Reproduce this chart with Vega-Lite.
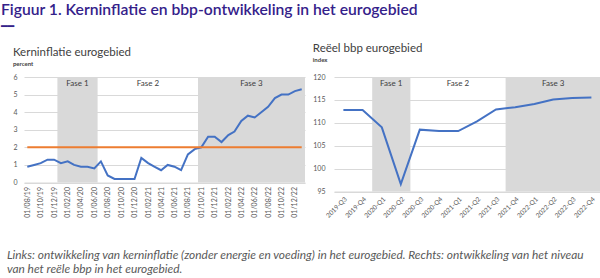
{
  "$schema": "https://vega.github.io/schema/vega-lite/v6.json",
  "background": "white",
  "padding": {"left": 0, "top": 2, "right": 0, "bottom": 0},
  "config": {
    "view": {"stroke": null},
    "font": "Lato",
    "axis": {"labelOverlap": false, "ticks": false, "labelFontSize": 7, "labelColor": "#595959", "gridColor": "#D9D9D9"},
    "axisY": {"grid": true, "domain": false},
    "axisX": {"grid": false, "domainColor": "#D9D9D9"}
  },
  "title": {
    "text": "Figuur 1. Kerninflatie en bbp-ontwikkeling in het eurogebied",
    "subtitle": "━━",
    "anchor": "start",
    "font": "Lato",
    "fontSize": 15.7,
    "fontWeight": 600,
    "color": "#34218A",
    "subtitleFont": "DejaVu Sans",
    "subtitleFontSize": 11,
    "subtitleColor": "#34218A",
    "subtitlePadding": 2,
    "dx": -6,
    "offset": 10.3
  },
  "datasets": {
    "inflatie": [
      {"maand": "2019-08-01", "kern": 0.9, "doel": 2},
      {"maand": "2019-09-01", "kern": 1.0, "doel": 2},
      {"maand": "2019-10-01", "kern": 1.1, "doel": 2},
      {"maand": "2019-11-01", "kern": 1.3, "doel": 2},
      {"maand": "2019-12-01", "kern": 1.3, "doel": 2},
      {"maand": "2020-01-01", "kern": 1.1, "doel": 2},
      {"maand": "2020-02-01", "kern": 1.2, "doel": 2},
      {"maand": "2020-03-01", "kern": 1.0, "doel": 2},
      {"maand": "2020-04-01", "kern": 0.9, "doel": 2},
      {"maand": "2020-05-01", "kern": 0.9, "doel": 2},
      {"maand": "2020-06-01", "kern": 0.8, "doel": 2},
      {"maand": "2020-07-01", "kern": 1.2, "doel": 2},
      {"maand": "2020-08-01", "kern": 0.4, "doel": 2},
      {"maand": "2020-09-01", "kern": 0.2, "doel": 2},
      {"maand": "2020-10-01", "kern": 0.2, "doel": 2},
      {"maand": "2020-11-01", "kern": 0.2, "doel": 2},
      {"maand": "2020-12-01", "kern": 0.2, "doel": 2},
      {"maand": "2021-01-01", "kern": 1.4, "doel": 2},
      {"maand": "2021-02-01", "kern": 1.1, "doel": 2},
      {"maand": "2021-03-01", "kern": 0.9, "doel": 2},
      {"maand": "2021-04-01", "kern": 0.7, "doel": 2},
      {"maand": "2021-05-01", "kern": 1.0, "doel": 2},
      {"maand": "2021-06-01", "kern": 0.9, "doel": 2},
      {"maand": "2021-07-01", "kern": 0.7, "doel": 2},
      {"maand": "2021-08-01", "kern": 1.6, "doel": 2},
      {"maand": "2021-09-01", "kern": 1.9, "doel": 2},
      {"maand": "2021-10-01", "kern": 2.0, "doel": 2},
      {"maand": "2021-11-01", "kern": 2.6, "doel": 2},
      {"maand": "2021-12-01", "kern": 2.6, "doel": 2},
      {"maand": "2022-01-01", "kern": 2.3, "doel": 2},
      {"maand": "2022-02-01", "kern": 2.7, "doel": 2},
      {"maand": "2022-03-01", "kern": 2.9, "doel": 2},
      {"maand": "2022-04-01", "kern": 3.5, "doel": 2},
      {"maand": "2022-05-01", "kern": 3.8, "doel": 2},
      {"maand": "2022-06-01", "kern": 3.7, "doel": 2},
      {"maand": "2022-07-01", "kern": 4.0, "doel": 2},
      {"maand": "2022-08-01", "kern": 4.3, "doel": 2},
      {"maand": "2022-09-01", "kern": 4.8, "doel": 2},
      {"maand": "2022-10-01", "kern": 5.0, "doel": 2},
      {"maand": "2022-11-01", "kern": 5.0, "doel": 2},
      {"maand": "2022-12-01", "kern": 5.2, "doel": 2},
      {"maand": "2023-01-01", "kern": 5.3, "doel": 2}
    ],
    "fasenL": [
      {"fase": "Fase 1", "start": "2019-12-16", "eind": "2020-06-16", "midden": "2020-03-16", "grijs": true},
      {"fase": "Fase 2", "start": "2020-06-16", "eind": "2021-09-16", "midden": "2021-01-31", "grijs": false},
      {"fase": "Fase 3", "start": "2021-09-16", "eind": "2023-01-16", "midden": "2022-05-17", "grijs": true}
    ],
    "bbp": [
      {"kwartaal": "2019-07-01", "bbp": 112.8},
      {"kwartaal": "2019-10-01", "bbp": 112.8},
      {"kwartaal": "2020-01-01", "bbp": 109.0},
      {"kwartaal": "2020-04-01", "bbp": 96.6},
      {"kwartaal": "2020-07-01", "bbp": 108.5},
      {"kwartaal": "2020-10-01", "bbp": 108.2},
      {"kwartaal": "2021-01-01", "bbp": 108.2},
      {"kwartaal": "2021-04-01", "bbp": 110.3},
      {"kwartaal": "2021-07-01", "bbp": 112.9},
      {"kwartaal": "2021-10-01", "bbp": 113.4},
      {"kwartaal": "2022-01-01", "bbp": 114.1},
      {"kwartaal": "2022-04-01", "bbp": 115.1},
      {"kwartaal": "2022-07-01", "bbp": 115.4},
      {"kwartaal": "2022-10-01", "bbp": 115.5}
    ],
    "fasenR": [
      {"fase": "Fase 1", "start": "2019-11-16", "eind": "2020-05-17", "midden": "2020-02-15", "grijs": true},
      {"fase": "Fase 2", "start": "2020-05-17", "eind": "2021-08-16", "midden": "2020-12-31", "grijs": false},
      {"fase": "Fase 3", "start": "2021-08-16", "eind": "2022-11-16", "midden": "2022-04-01", "grijs": true}
    ]
  },
  "vconcat": [
    {
      "title": {
        "text": ["Links: ontwikkeling van kerninflatie (zonder energie en voeding) in het eurogebied. Rechts: ontwikkeling van het niveau", "van het reële bbp in het eurogebied."],
        "orient": "bottom",
        "anchor": "start",
        "font": "Lato",
        "fontStyle": "italic",
        "fontWeight": "normal",
        "fontSize": 11.9,
        "lineHeight": 14,
        "color": "#595959",
        "dx": -6,
        "offset": 31.3
      },
      "spacing": 6,
      "hconcat": [
        {
          "width": 281,
          "height": 105.5,
          "title": {
            "text": "Kerninflatie eurogebied",
            "subtitle": "percent",
            "anchor": "start",
            "font": "Lato",
            "fontSize": 11.5,
            "fontWeight": "normal",
            "color": "#404040",
            "subtitleFont": "Lato",
            "subtitleFontSize": 6,
            "subtitleFontWeight": "bold",
            "subtitleColor": "#404040",
            "subtitlePadding": 2,
            "offset": 6.4
          },
          "layer": [
            {
              "data": {"name": "fasenL"},
              "transform": [{"filter": "datum.grijs"}],
              "mark": {"type": "rect", "color": "#D9D9D9"},
              "encoding": {
                "x": {
                  "field": "start", "type": "temporal", "title": null,
                  "scale": {"type": "utc", "nice": false, "domain": [{"year": 2019, "month": 7, "date": 17, "utc": true}, {"year": 2023, "month": 1, "date": 16, "utc": true}]},
                  "axis": {"values": [{"year": 2019, "month": 8, "date": 1, "utc": true}, {"year": 2019, "month": 10, "date": 1, "utc": true}, {"year": 2019, "month": 12, "date": 1, "utc": true}, {"year": 2020, "month": 2, "date": 1, "utc": true}, {"year": 2020, "month": 4, "date": 1, "utc": true}, {"year": 2020, "month": 6, "date": 1, "utc": true}, {"year": 2020, "month": 8, "date": 1, "utc": true}, {"year": 2020, "month": 10, "date": 1, "utc": true}, {"year": 2020, "month": 12, "date": 1, "utc": true}, {"year": 2021, "month": 2, "date": 1, "utc": true}, {"year": 2021, "month": 4, "date": 1, "utc": true}, {"year": 2021, "month": 6, "date": 1, "utc": true}, {"year": 2021, "month": 8, "date": 1, "utc": true}, {"year": 2021, "month": 10, "date": 1, "utc": true}, {"year": 2021, "month": 12, "date": 1, "utc": true}, {"year": 2022, "month": 2, "date": 1, "utc": true}, {"year": 2022, "month": 4, "date": 1, "utc": true}, {"year": 2022, "month": 6, "date": 1, "utc": true}, {"year": 2022, "month": 8, "date": 1, "utc": true}, {"year": 2022, "month": 10, "date": 1, "utc": true}, {"year": 2022, "month": 12, "date": 1, "utc": true}], "format": "01/%m/%y", "labelAngle": -90, "labelOverlap": false, "labelPadding": 4, "grid": false}
                },
                "x2": {"field": "eind"}
              }
            },
            {
              "data": {"name": "inflatie"},
              "mark": {"type": "line", "color": "#4472C4", "strokeWidth": 2},
              "encoding": {
                "x": {"field": "maand", "type": "temporal", "title": null,
                  "axis": {"values": [{"year": 2019, "month": 8, "date": 1, "utc": true}, {"year": 2019, "month": 10, "date": 1, "utc": true}, {"year": 2019, "month": 12, "date": 1, "utc": true}, {"year": 2020, "month": 2, "date": 1, "utc": true}, {"year": 2020, "month": 4, "date": 1, "utc": true}, {"year": 2020, "month": 6, "date": 1, "utc": true}, {"year": 2020, "month": 8, "date": 1, "utc": true}, {"year": 2020, "month": 10, "date": 1, "utc": true}, {"year": 2020, "month": 12, "date": 1, "utc": true}, {"year": 2021, "month": 2, "date": 1, "utc": true}, {"year": 2021, "month": 4, "date": 1, "utc": true}, {"year": 2021, "month": 6, "date": 1, "utc": true}, {"year": 2021, "month": 8, "date": 1, "utc": true}, {"year": 2021, "month": 10, "date": 1, "utc": true}, {"year": 2021, "month": 12, "date": 1, "utc": true}, {"year": 2022, "month": 2, "date": 1, "utc": true}, {"year": 2022, "month": 4, "date": 1, "utc": true}, {"year": 2022, "month": 6, "date": 1, "utc": true}, {"year": 2022, "month": 8, "date": 1, "utc": true}, {"year": 2022, "month": 10, "date": 1, "utc": true}, {"year": 2022, "month": 12, "date": 1, "utc": true}], "format": "01/%m/%y", "labelAngle": -90, "labelOverlap": false, "labelPadding": 4, "grid": false}
                },
                "y": {
                  "field": "kern", "type": "quantitative", "title": null,
                  "scale": {"domain": [0, 6], "nice": false},
                  "axis": {"values": [0, 1, 2, 3, 4, 5, 6], "labelOverlap": false, "grid": true, "gridColor": "#D9D9D9", "labelPadding": 7}
                }
              }
            },
            {
              "data": {"name": "inflatie"},
              "mark": {"type": "line", "color": "#ED7D31", "strokeWidth": 2},
              "encoding": {
                "x": {"field": "maand", "type": "temporal", "title": null,
                  "axis": {"values": [{"year": 2019, "month": 8, "date": 1, "utc": true}, {"year": 2019, "month": 10, "date": 1, "utc": true}, {"year": 2019, "month": 12, "date": 1, "utc": true}, {"year": 2020, "month": 2, "date": 1, "utc": true}, {"year": 2020, "month": 4, "date": 1, "utc": true}, {"year": 2020, "month": 6, "date": 1, "utc": true}, {"year": 2020, "month": 8, "date": 1, "utc": true}, {"year": 2020, "month": 10, "date": 1, "utc": true}, {"year": 2020, "month": 12, "date": 1, "utc": true}, {"year": 2021, "month": 2, "date": 1, "utc": true}, {"year": 2021, "month": 4, "date": 1, "utc": true}, {"year": 2021, "month": 6, "date": 1, "utc": true}, {"year": 2021, "month": 8, "date": 1, "utc": true}, {"year": 2021, "month": 10, "date": 1, "utc": true}, {"year": 2021, "month": 12, "date": 1, "utc": true}, {"year": 2022, "month": 2, "date": 1, "utc": true}, {"year": 2022, "month": 4, "date": 1, "utc": true}, {"year": 2022, "month": 6, "date": 1, "utc": true}, {"year": 2022, "month": 8, "date": 1, "utc": true}, {"year": 2022, "month": 10, "date": 1, "utc": true}, {"year": 2022, "month": 12, "date": 1, "utc": true}], "format": "01/%m/%y", "labelAngle": -90, "labelOverlap": false, "labelPadding": 4, "grid": false}
                },
                "y": {"field": "doel", "type": "quantitative", "title": null, "axis": {"values": [0, 1, 2, 3, 4, 5, 6], "labelOverlap": false, "grid": true, "gridColor": "#D9D9D9", "labelPadding": 7}}
              }
            },
            {
              "data": {"name": "fasenL"},
              "mark": {"type": "text", "fontSize": 8, "color": "#404040", "baseline": "top", "dy": 3},
              "encoding": {
                "x": {"field": "midden", "type": "temporal", "title": null,
                  "axis": {"values": [{"year": 2019, "month": 8, "date": 1, "utc": true}, {"year": 2019, "month": 10, "date": 1, "utc": true}, {"year": 2019, "month": 12, "date": 1, "utc": true}, {"year": 2020, "month": 2, "date": 1, "utc": true}, {"year": 2020, "month": 4, "date": 1, "utc": true}, {"year": 2020, "month": 6, "date": 1, "utc": true}, {"year": 2020, "month": 8, "date": 1, "utc": true}, {"year": 2020, "month": 10, "date": 1, "utc": true}, {"year": 2020, "month": 12, "date": 1, "utc": true}, {"year": 2021, "month": 2, "date": 1, "utc": true}, {"year": 2021, "month": 4, "date": 1, "utc": true}, {"year": 2021, "month": 6, "date": 1, "utc": true}, {"year": 2021, "month": 8, "date": 1, "utc": true}, {"year": 2021, "month": 10, "date": 1, "utc": true}, {"year": 2021, "month": 12, "date": 1, "utc": true}, {"year": 2022, "month": 2, "date": 1, "utc": true}, {"year": 2022, "month": 4, "date": 1, "utc": true}, {"year": 2022, "month": 6, "date": 1, "utc": true}, {"year": 2022, "month": 8, "date": 1, "utc": true}, {"year": 2022, "month": 10, "date": 1, "utc": true}, {"year": 2022, "month": 12, "date": 1, "utc": true}], "format": "01/%m/%y", "labelAngle": -90, "labelOverlap": false, "labelPadding": 4, "grid": false}
                },
                "y": {"datum": 6, "type": "quantitative", "title": null, "axis": {"values": [0, 1, 2, 3, 4, 5, 6], "labelOverlap": false, "grid": true, "gridColor": "#D9D9D9", "labelPadding": 7}},
                "text": {"field": "fase"}
              }
            }
          ]
        },
        {
          "width": 267,
          "height": 114.5,
          "title": {
            "text": "Reëel bbp eurogebied",
            "subtitle": "index",
            "anchor": "start",
            "font": "Lato",
            "fontSize": 11.5,
            "fontWeight": "normal",
            "color": "#404040",
            "subtitleFont": "Lato",
            "subtitleFontSize": 6,
            "subtitleFontWeight": "bold",
            "subtitleColor": "#404040",
            "subtitlePadding": 2,
            "offset": 10.4
          },
          "layer": [
            {
              "data": {"name": "fasenR"},
              "transform": [{"filter": "datum.grijs"}],
              "mark": {"type": "rect", "color": "#D9D9D9"},
              "encoding": {
                "x": {
                  "field": "start", "type": "temporal", "title": null,
                  "scale": {"type": "utc", "nice": false, "domain": [{"year": 2019, "month": 5, "date": 17, "utc": true}, {"year": 2022, "month": 11, "date": 16, "utc": true}]},
                  "axis": {"values": [{"year": 2019, "month": 7, "date": 1, "utc": true}, {"year": 2019, "month": 10, "date": 1, "utc": true}, {"year": 2020, "month": 1, "date": 1, "utc": true}, {"year": 2020, "month": 4, "date": 1, "utc": true}, {"year": 2020, "month": 7, "date": 1, "utc": true}, {"year": 2020, "month": 10, "date": 1, "utc": true}, {"year": 2021, "month": 1, "date": 1, "utc": true}, {"year": 2021, "month": 4, "date": 1, "utc": true}, {"year": 2021, "month": 7, "date": 1, "utc": true}, {"year": 2021, "month": 10, "date": 1, "utc": true}, {"year": 2022, "month": 1, "date": 1, "utc": true}, {"year": 2022, "month": 4, "date": 1, "utc": true}, {"year": 2022, "month": 7, "date": 1, "utc": true}, {"year": 2022, "month": 10, "date": 1, "utc": true}], "format": "%Y-Q%q", "labelAngle": -45, "labelOverlap": false, "labelFontSize": 6.5, "labelPadding": 4, "grid": false}
                },
                "x2": {"field": "eind"}
              }
            },
            {
              "data": {"name": "bbp"},
              "mark": {"type": "line", "color": "#4472C4", "strokeWidth": 2},
              "encoding": {
                "x": {"field": "kwartaal", "type": "temporal", "title": null,
                  "axis": {"values": [{"year": 2019, "month": 7, "date": 1, "utc": true}, {"year": 2019, "month": 10, "date": 1, "utc": true}, {"year": 2020, "month": 1, "date": 1, "utc": true}, {"year": 2020, "month": 4, "date": 1, "utc": true}, {"year": 2020, "month": 7, "date": 1, "utc": true}, {"year": 2020, "month": 10, "date": 1, "utc": true}, {"year": 2021, "month": 1, "date": 1, "utc": true}, {"year": 2021, "month": 4, "date": 1, "utc": true}, {"year": 2021, "month": 7, "date": 1, "utc": true}, {"year": 2021, "month": 10, "date": 1, "utc": true}, {"year": 2022, "month": 1, "date": 1, "utc": true}, {"year": 2022, "month": 4, "date": 1, "utc": true}, {"year": 2022, "month": 7, "date": 1, "utc": true}, {"year": 2022, "month": 10, "date": 1, "utc": true}], "format": "%Y-Q%q", "labelAngle": -45, "labelOverlap": false, "labelFontSize": 6.5, "labelPadding": 4, "grid": false}
                },
                "y": {
                  "field": "bbp", "type": "quantitative", "title": null,
                  "scale": {"domain": [95, 120], "nice": false, "zero": false},
                  "axis": {"values": [95, 100, 105, 110, 115, 120], "labelOverlap": false, "grid": true, "gridColor": "#D9D9D9", "labelPadding": 9}
                }
              }
            },
            {
              "data": {"name": "fasenR"},
              "mark": {"type": "text", "fontSize": 8, "color": "#404040", "baseline": "top", "dy": 3},
              "encoding": {
                "x": {"field": "midden", "type": "temporal", "title": null,
                  "axis": {"values": [{"year": 2019, "month": 7, "date": 1, "utc": true}, {"year": 2019, "month": 10, "date": 1, "utc": true}, {"year": 2020, "month": 1, "date": 1, "utc": true}, {"year": 2020, "month": 4, "date": 1, "utc": true}, {"year": 2020, "month": 7, "date": 1, "utc": true}, {"year": 2020, "month": 10, "date": 1, "utc": true}, {"year": 2021, "month": 1, "date": 1, "utc": true}, {"year": 2021, "month": 4, "date": 1, "utc": true}, {"year": 2021, "month": 7, "date": 1, "utc": true}, {"year": 2021, "month": 10, "date": 1, "utc": true}, {"year": 2022, "month": 1, "date": 1, "utc": true}, {"year": 2022, "month": 4, "date": 1, "utc": true}, {"year": 2022, "month": 7, "date": 1, "utc": true}, {"year": 2022, "month": 10, "date": 1, "utc": true}], "format": "%Y-Q%q", "labelAngle": -45, "labelOverlap": false, "labelFontSize": 6.5, "labelPadding": 4, "grid": false}
                },
                "y": {"datum": 120, "type": "quantitative", "title": null, "axis": {"values": [95, 100, 105, 110, 115, 120], "labelOverlap": false, "grid": true, "gridColor": "#D9D9D9", "labelPadding": 9}},
                "text": {"field": "fase"}
              }
            }
          ]
        }
      ]
    }
  ]
}
